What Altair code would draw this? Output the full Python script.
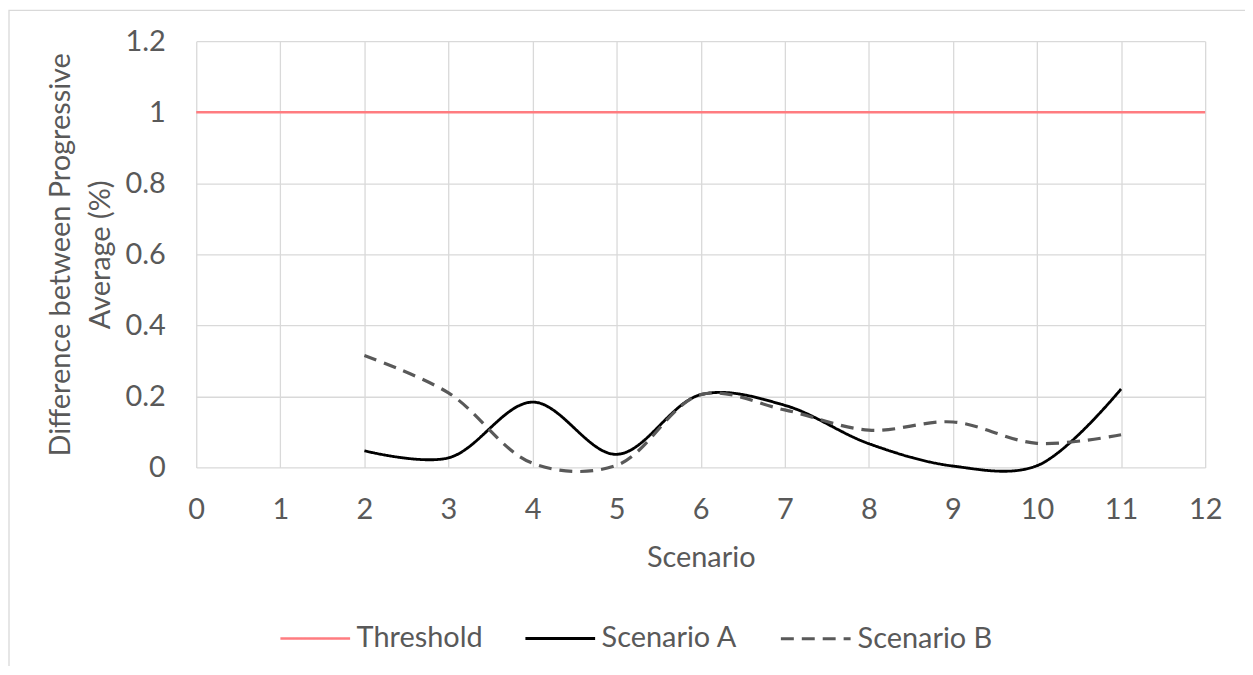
import altair as alt
import pandas as pd

# ---- data ----
threshold_x = [0, 1, 2, 3, 4, 5, 6, 7, 8, 9, 10, 11, 12]
threshold_y = [1, 1, 1, 1, 1, 1, 1, 1, 1, 1, 1, 1, 1]
scenario_x = [2, 3, 4, 5, 6, 7, 8, 9, 10, 11]
scenario_a = [0.047, 0.027, 0.184, 0.037, 0.205, 0.175, 0.067, 0.004, 0.005, 0.221]
scenario_b = [0.315, 0.210, 0.012, 0.006, 0.205, 0.162, 0.105, 0.128, 0.068, 0.092]

series_names = ["Threshold", "Scenario A", "Scenario B"]
series_colors = ["#FF7C80", "#000000", "#595959"]
series_dash = [[1, 0], [1, 0], [13, 8]]
series_width = [2.5, 3.2, 3.2]

x_ticks = [0, 1, 2, 3, 4, 5, 6, 7, 8, 9, 10, 11, 12]
y_ticks = [0, 0.2, 0.4, 0.6, 0.8, 1.0, 1.2]

rows = []
for xv, yv in zip(threshold_x, threshold_y):
    rows.append({"Scenario": xv, "Value": yv, "Series": "Threshold"})
for xv, yv in zip(scenario_x, scenario_a):
    rows.append({"Scenario": xv, "Value": yv, "Series": "Scenario A"})
for xv, yv in zip(scenario_x, scenario_b):
    rows.append({"Scenario": xv, "Value": yv, "Series": "Scenario B"})
df = pd.DataFrame(rows)

TEXT = "#595959"
FONT = "Lato"

legend = alt.Legend(
    title=None,
    orient="none",
    legendX=83,
    legendY=563,
    direction="horizontal",
    symbolType="stroke",
    symbolSize=4900,
    symbolStrokeWidth=3,
    labelFontSize=29,
    labelColor=TEXT,
    labelFont=FONT,
    labelOffset=5,
    columnPadding=36,
)

lines = alt.Chart(df).mark_line(interpolate="catmull-rom").encode(
    x=alt.X(
        "Scenario:Q",
        scale=alt.Scale(domain=[0, 12], nice=False, zero=False),
        axis=alt.Axis(
            values=x_ticks,
            title="Scenario",
            labelPadding=28,
            labelFlush=False,
            titlePadding=19,
        ),
    ),
    y=alt.Y(
        "Value:Q",
        scale=alt.Scale(domain=[0, 1.2], nice=False),
        axis=alt.Axis(
            values=y_ticks,
            format="~g",
            title=["Difference between Progressive", "Average (%)"],
            labelPadding=31,
            titlePadding=10,
            titleLineHeight=40,
        ),
    ),
    color=alt.Color(
        "Series:N",
        scale=alt.Scale(domain=series_names, range=series_colors),
        legend=legend,
        sort=series_names,
    ),
    strokeDash=alt.StrokeDash(
        "Series:N",
        scale=alt.Scale(domain=series_names, range=series_dash),
        legend=legend,
        sort=series_names,
    ),
    strokeWidth=alt.StrokeWidth(
        "Series:N",
        scale=alt.Scale(domain=series_names, range=series_width),
        legend=None,
    ),
)

frame_df = pd.DataFrame({"k": [0]})
frame = alt.Chart(frame_df).mark_rect(
    fillOpacity=0, stroke="#d9d9d9", strokeWidth=1.3
).encode(
    x=alt.value(-188), x2=alt.value(1200), y=alt.value(-31), y2=alt.value(700)
)

chart = alt.layer(frame, lines).properties(
    width=1013,
    height=428,
    padding={"left": 189, "top": 32, "right": 40, "bottom": 198},
    autosize=alt.AutoSizeParams(type="none"),
).configure_view(stroke=None).configure_axis(
    domain=False,
    ticks=False,
    grid=True,
    gridColor="#d9d9d9",
    gridWidth=1.3,
    labelFont=FONT,
    labelFontSize=29,
    labelColor=TEXT,
    titleFont=FONT,
    titleFontSize=29,
    titleFontWeight="normal",
    titleColor=TEXT,
)

chart.save("out.html", embed_options={"renderer": "svg", "actions": False})
